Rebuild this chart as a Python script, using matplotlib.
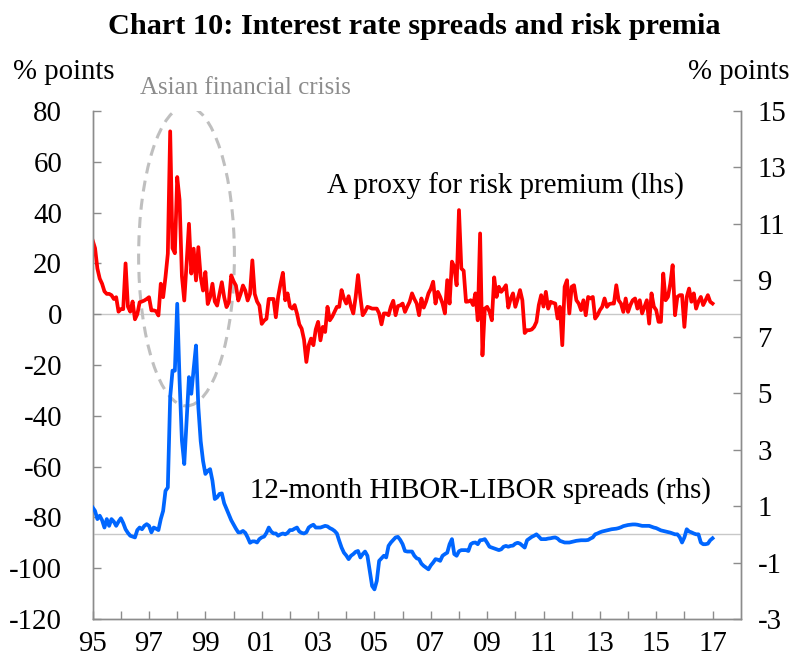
import numpy as np
import matplotlib
matplotlib.use("Agg")
import matplotlib.pyplot as plt
from matplotlib.patches import Ellipse

plt.rcParams['font.family'] = ['Liberation Serif', 'DejaVu Serif']
plt.rcParams['axes.unicode_minus'] = False

# monthly data, Jan 1995 onwards
risk_premium = [
    29, 26, 18, 14, 12, 9, 8, 8, 7.5, 6, 6.7, 1,
    2, 2, 20, 3, 1, 5, -2, 0, 4.7, 5, 5.4, 6,
    6.7, 1.5, 1.5, 1.2, -0.5, 12, 6.7, 14.6, 23.8, 72, 26, 24,
    54, 45, 15, 5.4, 20, 35.6, 16, 25.8, 13.3, 26.4, 14.6, 9.3,
    16.6, 4, 6.7, 12, 5, 3.4, 8, 12.6, 6.7, 2.8, 4.7, 15.3,
    13, 11.3, 5.4, 8, 11.3, 9.3, 5.4, 8, 21.2, 8, 5, 3.4,
    -3.8, -2.5, -1.8, 6, 6, 6, -1.2, 7, 12, 16.3, 5.5, 8.2,
    3, 2.2, 3.6, 0.3, -4, -5.7, -10, -18.8, -12.2, -9.6, -12.2, -6,
    -3, -10.3, -5, -7, 2.9, -2.4, -1, 1, 2.9, 2.9, 9.5, 6.2,
    4.2, 7.1, 3, 0.3, 6.8, 15.4, 6.8, -0.4, 1, 2.9, 2.6, 2.2,
    2.2, 2.2, 0.3, -4, 0.3, 0.3, -0.4, 3, 5.3, -0.4, 3.2, 3.5,
    4.2, 0.9, 3, 4.9, 8.2, 6, 4.2, -0.4, 6.2, 2.6, 5, 8.2,
    10, 12.8, 4.2, 8.8, 6.8, 4.2, 0.3, 13.4, 4.2, 20.7, 18.7, 11.4,
    41, 18, 17.1, 4.9, 5, 5.5, 3.6, 8.2, -2.4, 31.8, -16.2, 2.2,
    2.9, 1, -2.4, 14.5, 6.8, 10.8, 8.8, 10, 11.4, 2.6, 6, 8.2,
    2.9, 6, 9.5, 5.5, -7.4, -6.3, -6.3, -6, -5, -3, 3.6, 7.5,
    3, 8.8, 2.2, 4.9, 4.5, 4.2, -1.7, 2.9, -12.2, 10.8, 13.4, 0.3,
    10.8, 11.4, 5.5, 4.2, 1.6, 5.5, -0.4, 6.8, 6.2, 6.8, -1.7, -0.4,
    1.6, 2.9, 6.2, 2.9, 4, 4.2, 4.2, 11.4, 5.5, 4.2, 0.9, 6.2,
    0.9, 3.6, 5.5, 6.2, 2.2, 5.5, 0.3, 2.9, 5.5, -3.7, 8.2, 3,
    1.6, -3, -3, 16, 5.5, 6.8, 12, 19.3, -0.4, 6.8, 7.5, 7.5,
    -5, 6.8, 10.1, 4.9, 8.2, 2.2, 5, 6.8, 3.6, 5.5, 7.5, 4.9,
    4.2,
]
hibor_libor = [
    0.95, 0.83, 0.54, 0.66, 0.5, 0.24, 0.54, 0.3, 0.54, 0.45, 0.3, 0.45,
    0.57, 0.4, 0.18, 0.05, -0.05, -0.08, -0.11, 0.15, 0.24, 0.18, 0.3, 0.36,
    0.3, 0.07, 0.24, 0.2, 0.15, 0.54, 0.83, 1.54, 1.66, 4.86, 5.8, 5.8,
    8.17, 5.45, 3.32, 2.49, 4.03, 5.57, 4.98, 5.86, 6.69, 4.5, 3.3, 2.6,
    2.14, 2.25, 2.31, 1.9, 1.25, 1.31, 1.43, 1.45, 1.1, 0.9, 0.7, 0.5,
    0.35, 0.2, 0.07, 0.07, 0.12, 0.05, -0.11, -0.3, -0.25, -0.25, -0.29, -0.17,
    -0.11, -0.08, 0.05, 0.24, 0.1, 0.03, 0.03, -0.05, 0, 0.03, 0, 0.05,
    0.15, 0.15, 0.2, 0.24, 0.1, 0.05, 0.03, 0.07, 0.24, 0.3, 0.34, 0.24,
    0.24, 0.24, 0.27, 0.3, 0.28, 0.22, 0.18, 0.12, 0.03, -0.23, -0.47, -0.65,
    -0.75, -0.88, -0.76, -0.7, -0.62, -0.59, -0.82, -0.7, -0.61, -0.76, -1.3, -1.83,
    -1.95, -1.65, -0.94, -0.85, -0.76, -0.82, -0.41, -0.29, -0.2, -0.11, -0.09, -0.2,
    -0.35, -0.59, -0.61, -0.61, -0.61, -0.76, -0.85, -0.88, -1.04, -1.12, -1.18, -1.24,
    -1.1, -1.0, -0.88, -0.9, -0.94, -0.76, -0.7, -0.65, -0.35, -0.17, -0.7, -0.76,
    -0.6, -0.56, -0.56, -0.56, -0.59, -0.35, -0.3, -0.29, -0.35, -0.21, -0.2, -0.17,
    -0.3, -0.44, -0.47, -0.5, -0.53, -0.56, -0.53, -0.44, -0.41, -0.44, -0.41, -0.4,
    -0.33, -0.3, -0.33, -0.4, -0.47, -0.21, -0.15, -0.09, -0.05, 0, -0.08, -0.17,
    -0.17, -0.17, -0.15, -0.14, -0.12, -0.11, -0.15, -0.23, -0.26, -0.29, -0.29, -0.29,
    -0.27, -0.25, -0.23, -0.22, -0.21, -0.21, -0.21, -0.2, -0.15, -0.11, 0, 0.03,
    0.07, 0.1, 0.12, 0.14, 0.16, 0.18, 0.19, 0.2, 0.22, 0.25, 0.29, 0.31,
    0.33, 0.34, 0.35, 0.35, 0.34, 0.32, 0.3, 0.3, 0.3, 0.3, 0.27, 0.24,
    0.22, 0.18, 0.14, 0.12, 0.1, 0.08, 0.06, 0.03, 0, 0, -0.1, -0.29,
    -0.11, 0.18, 0.1, 0.07, 0.03, 0, 0, -0.29, -0.35, -0.35, -0.33, -0.21,
    -0.14,
]
months = 1995 + np.arange(len(risk_premium)) / 12.0

left_ticks = [-120, -100, -80, -60, -40, -20, 0, 20, 40, 60, 80]
right_ticks = [-3, -1, 1, 3, 5, 7, 9, 11, 13, 15]
year_ticks = list(range(1995, 2018))
year_labels = [str(y)[2:] if y % 2 == 1 else '' for y in year_ticks]

fs = 20.8
axis_grey = '#8C8C8C'

fig = plt.figure(figsize=(7.97, 6.66), dpi=100)
ax = fig.add_axes([0.1163, 0.0706, 0.8131, 0.7627])
ax2 = ax.twinx()

ax.axhline(0, color='#C8C8C8', lw=1, zorder=1)
ax2.axhline(0, color='#C8C8C8', lw=1, zorder=1)

ell = Ellipse((1998.33, 22.9), 3.4, 118, fill=False, edgecolor='#BFBFBF',
              lw=2.2, linestyle=(0, (3.6, 2.4)), zorder=2)
ax.add_patch(ell)

ax.plot(months, risk_premium, color='#FF0000', lw=2.7, zorder=3)
ax2.plot(months, hibor_libor, color='#0066FF', lw=2.7, zorder=3)

ax.set_xlim(1995, 2018)
ax.set_ylim(-120, 80)
ax2.set_ylim(-3, 15)

ax.set_xticks(year_ticks)
ax.set_xticklabels(year_labels)
ax.set_yticks(left_ticks)
ax.set_yticklabels([str(v) for v in left_ticks])
ax2.set_yticks(right_ticks)
ax2.set_yticklabels([str(v) for v in right_ticks])

for a in (ax, ax2):
    a.spines['top'].set_visible(False)
    for s in ('left', 'right', 'bottom'):
        a.spines[s].set_color(axis_grey)
        a.spines[s].set_linewidth(1)
ax.tick_params(axis='x', direction='in', length=6, width=1, color=axis_grey,
               labelsize=fs, pad=9)
ax.tick_params(axis='y', direction='in', length=6, width=1, color=axis_grey,
               labelsize=fs, pad=22)
ax2.tick_params(axis='y', direction='in', length=6, width=1, color=axis_grey,
                labelsize=fs, pad=12)

ax.text(2003.31, 50.5, 'A proxy for risk premium (lhs)', fontsize=fs,
        va='center', ha='left')
ax.text(2000.58, -69.4, '12-month HIBOR-LIBOR spreads (rhs)', fontsize=fs,
        va='center', ha='left')
ax.text(1996.68, 89.2, 'Asian financial crisis', fontsize=18, color='#8C8C8C',
        va='center', ha='left', clip_on=False)

fig.text(0.52, 1 - 26 / 666, 'Chart 10: Interest rate spreads and risk premia',
         fontsize=21.8, fontweight='bold', ha='center', va='center')
fig.text(13 / 797, 1 - 72 / 666, '% points', fontsize=fs, ha='left', va='center')
fig.text(790 / 797, 1 - 72 / 666, '% points', fontsize=fs, ha='right', va='center')

fig.savefig('out.png', dpi=100)
